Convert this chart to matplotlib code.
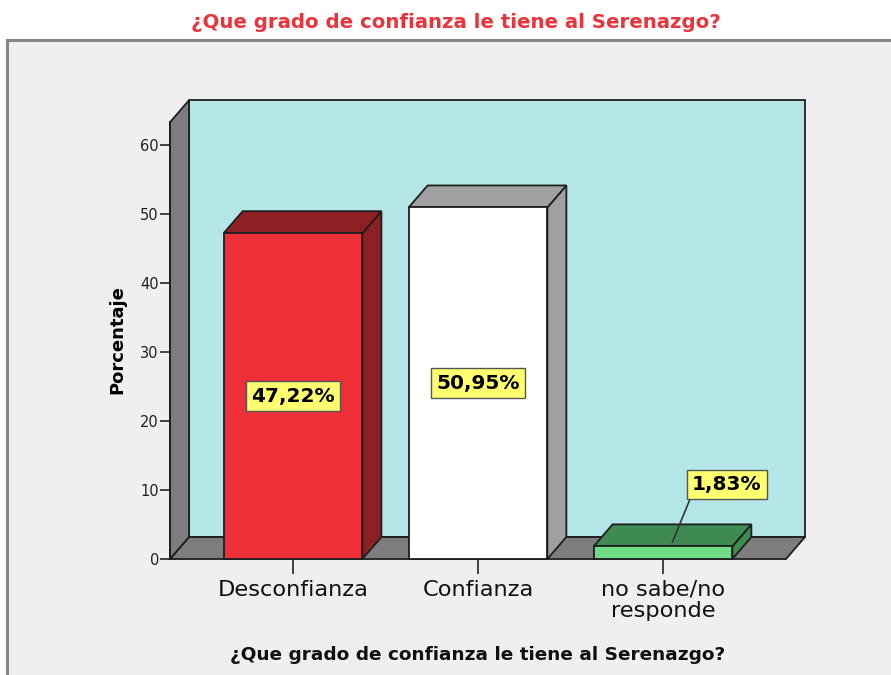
import matplotlib
matplotlib.use("Agg")
import matplotlib.pyplot as plt
from matplotlib.patches import Polygon, Rectangle

categories = ["Desconfianza", "Confianza", "no sabe/no\nresponde"]
values = [47.22, 50.95, 1.83]
value_labels = ["47,22%", "50,95%", "1,83%"]
yticks = [0, 10, 20, 30, 40, 50, 60]
title = "¿Que grado de confianza le tiene al Serenazgo?"
ylabel = "Porcentaje"

front_colors = ["#ef3038", "#ffffff", "#6fdc85"]
dark_colors = ["#8e1f23", "#a0a0a0", "#3e8a50"]

W, H = 891, 675
fig = plt.figure(figsize=(W / 100, H / 100), dpi=100)
fig.patch.set_facecolor("white")

def fx(x):
    return x / W

def fy(y):
    return 1 - y / H

# outer frame
fig.patches.append(Rectangle((fx(7), fy(H + 10)), fx(W + 20), fy(40) - fy(H + 10),
                             transform=fig.transFigure, fc="#efefef", ec="#858585",
                             lw=2.2, zorder=-5))

# axes: front plane
left_px, right_px, zero_px, top_px = 170, 786, 559, 100
ppu = 6.9  # px per unit
ax = fig.add_axes([fx(left_px), fy(zero_px), fx(right_px - left_px), (zero_px - top_px) / H])
ax.set_zorder(2)
xmin, xmax = -0.665, 2.665
ymax = (zero_px - top_px) / ppu
ax.set_xlim(xmin, xmax)
ax.set_ylim(0, ymax)
ax.patch.set_visible(False)
for s in ax.spines.values():
    s.set_visible(False)

dx = 19 / ((right_px - left_px) / (xmax - xmin))
dy = 22 / ppu
wall_top = 63.3
edge = "#1e1e1e"
lw = 1.3

# back wall
ax.add_patch(Polygon([(xmin + dx, dy), (xmax + dx, dy), (xmax + dx, wall_top + dy), (xmin + dx, wall_top + dy)],
                     closed=True, fc="#b4e6e8", ec=edge, lw=lw, zorder=1, clip_on=False))
# floor
ax.add_patch(Polygon([(xmin, 0), (xmax, 0), (xmax + dx, dy), (xmin + dx, dy)],
                     closed=True, fc="#7d7d7d", ec=edge, lw=lw, zorder=2, clip_on=False))
# left wall
ax.add_patch(Polygon([(xmin, 0), (xmin + dx, dy), (xmin + dx, wall_top + dy), (xmin, wall_top)],
                     closed=True, fc="#7d7d7d", ec=edge, lw=lw, zorder=2, clip_on=False))

hw = 0.375
for i, (v, fc, dc) in enumerate(zip(values, front_colors, dark_colors)):
    x0, x1 = i - hw, i + hw
    ax.add_patch(Polygon([(x1, 0), (x1 + dx, dy), (x1 + dx, v + dy), (x1, v)],
                         closed=True, fc=dc, ec=edge, lw=lw, zorder=3, clip_on=False))
    ax.add_patch(Polygon([(x0, v), (x1, v), (x1 + dx, v + dy), (x0 + dx, v + dy)],
                         closed=True, fc=dc, ec=edge, lw=lw, zorder=3, clip_on=False))
    ax.add_patch(Rectangle((x0, 0), x1 - x0, v, fc=fc, ec=edge, lw=lw, zorder=4, clip_on=False))

bbox = dict(boxstyle="square,pad=0.26", fc="#ffff70", ec="#555555", lw=1)
lab_font = dict(fontsize=14.5, fontweight="bold", family="DejaVu Sans")
for i, (v, lab) in enumerate(zip(values, value_labels)):
    if v > 10:
        ax.text(i, v / 2, lab, ha="center", va="center", bbox=bbox, zorder=6, **lab_font)
    else:
        lx, ly = i + 0.346, v + 9.0
        ax.annotate(lab, xy=(i + dx * 0.5, v + dy * 0.2), xytext=(lx, ly),
                    ha="center", va="center", bbox=bbox, zorder=6, **lab_font,
                    arrowprops=dict(arrowstyle="-", color="#333333", lw=1.2,
                                    shrinkA=0, shrinkB=0, relpos=(0.0, 0.0)))

# y ticks
ax.set_yticks(yticks)
ax.set_yticklabels([str(t) for t in yticks], fontsize=10.5, color="#222222")
ax.tick_params(axis="y", direction="out", length=7.5, width=1.3, color="#333333", pad=0.5)
ax.set_xticks(range(len(categories)))
ax.set_xticklabels(categories, fontsize=16.2, color="#111111", linespacing=1.1)
ax.tick_params(axis="x", direction="out", length=11, width=1.3, color="#333333", pad=4)
ax.spines["left"].set_visible(True)
ax.spines["left"].set_bounds(0, wall_top)
ax.spines["left"].set_color(edge)
ax.spines["left"].set_linewidth(lw)
ax.spines["bottom"].set_visible(False)

ax.set_ylabel(ylabel, fontsize=13, fontweight="bold")
ax.yaxis.set_label_coords(-(left_px - 126) / (right_px - left_px), (zero_px - 340) / (zero_px - top_px))

fig.text(fx(456), fy(23), title, ha="center", va="center", fontsize=14.2,
         fontweight="bold", color="#e8343c")
fig.text(fx(478), fy(655), title, ha="center", va="center", fontsize=13.3,
         fontweight="bold", color="#111111")

fig.savefig("out.png", dpi=100, facecolor=fig.get_facecolor())
